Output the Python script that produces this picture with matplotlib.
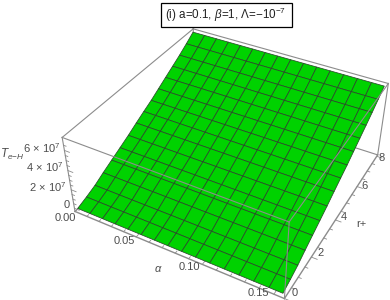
import numpy as np
import matplotlib
matplotlib.use("Agg")
import matplotlib.pyplot as plt
from matplotlib.patches import Rectangle

plt.rcParams["font.family"] = ["Liberation Sans", "DejaVu Sans"]
plt.rcParams["mathtext.fontset"] = "custom"
plt.rcParams["mathtext.rm"] = "Liberation Sans"
plt.rcParams["mathtext.it"] = "Liberation Sans:italic"

W, H = 390, 300

# mesh values
alpha_mesh = [0.001, 0.0113, 0.0217, 0.032, 0.0423, 0.0527, 0.063, 0.0733, 0.0837,
              0.094, 0.1043, 0.1147, 0.125, 0.1353, 0.1457, 0.155]
r_mesh = [0.1, 0.62, 1.14, 1.66, 2.2, 2.75, 3.3, 3.84, 4.36, 4.88, 5.4, 5.92,
          6.44, 6.96, 7.48, 8.0]
t_at_r = [-0.15, 0.15, 0.5, 0.98, 1.44, 1.9, 2.37, 2.88, 3.35, 3.8, 4.32, 4.84, 5.35,
          5.87, 6.44, 7.05]  # in 1e7

alpha_lim = (0.0, 0.157)
r_lim = (0.0, 8.1)
z_lim = (-0.35, 7.25)

alpha_labels = ["0.00", "0.05", "0.10", "0.15"]
alpha_label_px = [(65, 218), (124, 241), (189, 267), (258, 293)]
r_labels = ["0", "2", "4", "6", "8"]
r_label_px = [(295, 293), (321, 253), (344, 217), (364, 186), (382, 158)]
z_labels = ["0", r"$2\,\times\,10^{7}$", r"$4\,\times\,10^{7}$", r"$6\,\times\,10^{7}$"]
z_label_px = [(67, 205), (48, 187), (45, 167), (42, 148)]

GREY = "#8c8c8c"
TXT = "#4d4d4d"

fig = plt.figure(figsize=(W / 100, H / 100), dpi=100)
ax = fig.add_axes([-75 / W, -155 / H, 600 / W, 600 / H], projection="3d", computed_zorder=False)
ax.set_proj_type("persp", focal_length=0.235)
ax.view_init(elev=38, azim=-61)
ax.set_box_aspect((1, 1, 0.4), zoom=0.548)
ax.set_xlim(*alpha_lim)
ax.set_ylim(*r_lim)
ax.set_zlim(*z_lim)
ax.set_axis_off()
ax.patch.set_alpha(0)

x0, x1 = alpha_lim
y0, y1 = r_lim
z0, z1 = z_lim


def edge(p, q, z=1, lw=0.8):
    ax.plot(*zip(p, q), color=GREY, lw=lw, zorder=z)


# box edges behind the surface
edge((x0, y0, z0), (x1, y0, z0), lw=1.0)
edge((x1, y0, z0), (x1, y1, z0), lw=1.0)
edge((x0, y0, z0), (x0, y1, z0))
edge((x0, y1, z0), (x1, y1, z0))
edge((x0, y0, z0), (x0, y0, z1))
edge((x0, y1, z0), (x0, y1, z1))
edge((x1, y1, z0), (x1, y1, z1))
edge((x0, y0, z1), (x0, y1, z1))
edge((x0, y1, z1), (x1, y1, z1))
edge((x1, y0, z1), (x1, y1, z1), z=3)

# surface
A, R = np.meshgrid(alpha_mesh, r_mesh)
Z = np.tile(t_at_r, (len(alpha_mesh), 1)).T
ax.plot_surface(A, R, Z, rstride=1, cstride=1, color="#00d200", shade=False,
                edgecolor="#2a4a2a", linewidth=0.55, antialiased=True, zorder=2)

# front box edges show over the surface
edge((x0, y0, z1), (x1, y0, z1), z=3)
edge((x1, y0, z0), (x1, y0, z1), z=3)

# tick marks
for a in np.arange(0, 0.151, 0.01):
    major = round(a * 100) % 5 == 0
    ax.plot([a, a], [y0, y0 + (0.2 if major else 0.1)], [z0, z0], color=GREY, lw=0.6, zorder=1)
for r in np.arange(0, 8.01, 0.5):
    major = round(r * 2) % 4 == 0
    ax.plot([x1, x1 + (0.004 if major else 0.002)], [r, r], [z0, z0], color=GREY, lw=0.6, zorder=1)
for t in np.arange(0, 6.6, 0.5):
    major = round(t * 2) % 4 == 0
    ax.plot([x0, x0 + (0.004 if major else 0.002)], [y0, y0], [t, t], color=GREY, lw=0.6, zorder=1)


def put(px, s, size=8, color=TXT, **kw):
    fig.text(px[0] / W, 1 - px[1] / H, s, fontsize=size, color=color,
             ha="center", va="center", **kw)


for px, s in zip(alpha_label_px, alpha_labels):
    put(px, s)
for px, s in zip(r_label_px, r_labels):
    put(px, s)
for px, s in zip(z_label_px, z_labels):
    put(px, s)

put((158, 269), r"$\alpha$")
put((361, 224), "r+")
put((12, 154), r"$T_{e\mathrm{-}H}$", size=8.5)

# title box
fig.add_artist(Rectangle((160.5 / W, 1 - 27 / H), 131 / W, 24 / H, transform=fig.transFigure,
                         fc="white", ec="black", lw=0.9, zorder=5))
fig.text(225.5 / W, 1 - 15 / H, r"(i) a=0.1, $\beta$=1, $\Lambda$=$-$10$^{-7}$",
         fontsize=8.4, color="#222222", ha="center", va="center", zorder=6)

fig.savefig("out.png", dpi=100)
